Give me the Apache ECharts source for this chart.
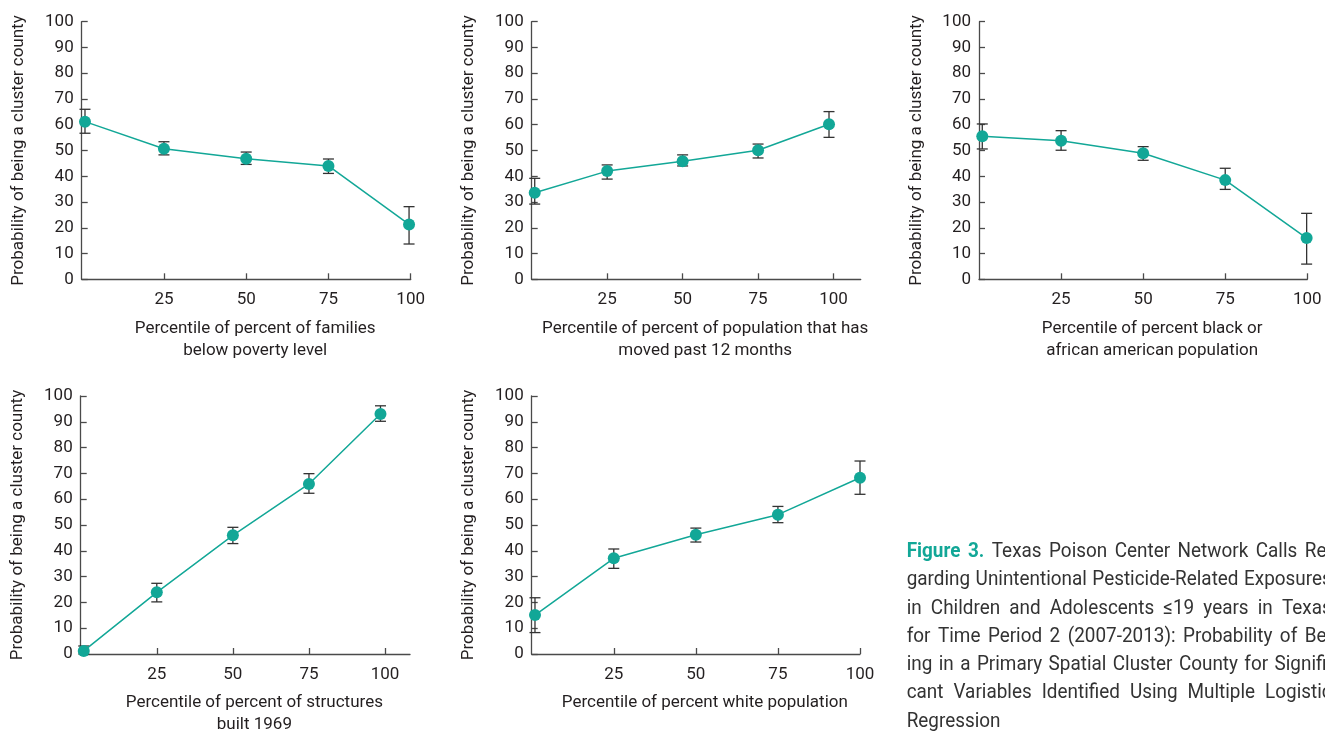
<!DOCTYPE html>
<html><head><meta charset="utf-8">
<script src="https://cdn.jsdelivr.net/npm/echarts@6/dist/echarts.min.js"></script>
<style>html,body{margin:0;padding:0;background:#fff;}#c{width:1325px;height:734px;}</style>
</head><body><div id="c"></div>
<script>
// ---- data ----
const xTickValues = [25, 50, 75, 100];
const yAxisTitle = 'Probability of being a cluster county';

const p1Title = 'Percentile of percent of families\nbelow poverty level';
const p1X = [1, 25, 50, 75, 99.5];
const p1Y = [61.2, 50.7, 46.8, 44.0, 21.3];
const p1Lo = [56.7, 48.3, 44.6, 41.1, 13.7];
const p1Hi = [66.0, 53.4, 49.4, 46.7, 28.2];

const p2Title = 'Percentile of percent of population that has\nmoved past 12 months';
const p2X = [1, 25, 50, 75, 98.5];
const p2Y = [33.6, 42.0, 45.8, 50.1, 60.2];
const p2Lo = [29.2, 38.9, 44.0, 47.1, 55.1];
const p2Hi = [39.2, 44.4, 48.3, 52.5, 65.1];

const p3Title = 'Percentile of percent black or\nafrican american population';
const p3X = [1, 25, 50, 75, 99.8];
const p3Y = [55.5, 53.8, 48.9, 38.5, 16.0];
const p3Lo = [50.6, 50.1, 46.2, 34.9, 5.9];
const p3Hi = [60.3, 57.7, 51.5, 43.1, 25.6];

const p4Title = 'Percentile of percent of structures\nbuilt 1969';
const p4X = [1, 25, 50, 75, 98.5];
const p4Y = [1.2, 23.9, 46.0, 65.9, 93.0];
const p4Lo = [0, 20.2, 42.8, 62.3, 90.2];
const p4Hi = [3.1, 27.4, 49.1, 69.9, 96.2];

const p5Title = 'Percentile of percent white population';
const p5X = [1, 25, 50, 75, 100];
const p5Y = [15.1, 37.1, 46.2, 54.0, 68.3];
const p5Lo = [8.3, 33.2, 43.4, 50.9, 61.9];
const p5Hi = [21.8, 40.7, 48.8, 57.2, 74.8];

const captionLabel = 'Figure 3.';
const captionLines = [
  'Texas Poison Center Network Calls Re-',
  'garding Unintentional Pesticide-Related Exposures',
  'in Children and Adolescents \u226419 years in Texas',
  'for Time Period 2 (2007-2013): Probability of Be-',
  'ing in a Primary Spatial Cluster County for Signifi-',
  'cant Variables Identified Using Multiple Logistic',
  'Regression'
];

// ---- layout ----
const panels = [
  {t: p1Title, x: p1X, y: p1Y, lo: p1Lo, hi: p1Hi, xMax: 100, grid: {left: 81.7, top: 21.7, width: 329, height: 257.6}},
  {t: p2Title, x: p2X, y: p2Y, lo: p2Lo, hi: p2Hi, xMax: 109, grid: {left: 531.7, top: 21.7, width: 329, height: 257.6}},
  {t: p3Title, x: p3X, y: p3Y, lo: p3Lo, hi: p3Hi, xMax: 100, grid: {left: 979, top: 21.7, width: 328.3, height: 257.6}},
  {t: p4Title, x: p4X, y: p4Y, lo: p4Lo, hi: p4Hi, xMax: 108.2, grid: {left: 80.7, top: 396, width: 329.3, height: 258}},
  {t: p5Title, x: p5X, y: p5Y, lo: p5Lo, hi: p5Hi, xMax: 100, grid: {left: 531.7, top: 396, width: 328.3, height: 258}}
];

const FONT = 'Roboto, sans-serif';
const FS = 17;
const TXT = '#231f20';
const AX = '#4a4a4a';
const TEAL = '#12a797';

const grids = [], xAxes = [], yAxes = [], series = [];
panels.forEach((p, i) => {
  grids.push(Object.assign({containLabel: false, outerBoundsMode: 'none'}, p.grid));
  xAxes.push({
    type: 'value', gridIndex: i, min: 0, max: p.xMax,
    splitLine: {show: false},
    axisLine: {show: true, lineStyle: {color: AX, width: 1.3}},
    axisTick: {show: true, inside: true, length: 6, customValues: xTickValues, lineStyle: {color: AX, width: 1.3}},
    axisLabel: {customValues: xTickValues, margin: 12, fontSize: FS, color: TXT, fontFamily: FONT},
    name: p.t, nameLocation: 'middle', nameGap: 38,
    nameTextStyle: {fontSize: FS, color: TXT, fontFamily: FONT, lineHeight: 22, padding: [0, 0, 0, 18]}
  });
  yAxes.push({
    type: 'value', gridIndex: i, min: 0, max: 100, interval: 10,
    splitLine: {show: false},
    axisLine: {show: true, lineStyle: {color: AX, width: 1.3}},
    axisTick: {show: true, inside: true, length: 6, lineStyle: {color: AX, width: 1.3}},
    axisLabel: {margin: 8, fontSize: FS, color: TXT, fontFamily: FONT},
    name: yAxisTitle, nameLocation: 'middle', nameGap: 54, nameRotate: 90,
    nameTextStyle: {fontSize: FS, color: TXT, fontFamily: FONT}
  });
  const errData = p.x.map((xv, k) => [xv, p.lo[k], p.hi[k]]);
  series.push({
    type: 'custom', xAxisIndex: i, yAxisIndex: i, clip: false, z: 2,
    data: errData, encode: {x: 0, y: [1, 2]},
    renderItem: function (params, api) {
      const a = api.coord([api.value(0), api.value(1)]);
      const b = api.coord([api.value(0), api.value(2)]);
      const w = 5.5;
      const st = {stroke: '#333', lineWidth: 1.3};
      return {type: 'group', children: [
        {type: 'line', shape: {x1: a[0], y1: a[1], x2: b[0], y2: b[1]}, style: st},
        {type: 'line', shape: {x1: a[0] - w, y1: a[1], x2: a[0] + w, y2: a[1]}, style: st},
        {type: 'line', shape: {x1: b[0] - w, y1: b[1], x2: b[0] + w, y2: b[1]}, style: st}
      ]};
    }
  });
  series.push({
    type: 'line', xAxisIndex: i, yAxisIndex: i, clip: false, z: 3,
    data: p.x.map((xv, k) => [xv, p.y[k]]),
    symbol: 'circle', symbolSize: 12,
    lineStyle: {color: TEAL, width: 1.5},
    itemStyle: {color: TEAL, borderWidth: 0},
    emphasis: {disabled: true}
  });
});

// ---- caption: justified text, word by word ----
const CAP_FS = 21, CAP_SX = 0.9, CAP_LEFT = 906.7, CAP_W = 425, CAP_Y0 = 551.7, CAP_LH = 28.3;
const mctx = document.createElement('canvas').getContext('2d');
function measure(t, bold) {
  mctx.font = (bold ? 'bold ' : '') + CAP_FS + 'px Roboto';
  return mctx.measureText(t).width * CAP_SX;
}
const graphics = [];
captionLines.forEach((ln, k) => {
  let words = ln.split(' ').map(w => ({t: w, bold: false}));
  if (k === 0) words = captionLabel.split(' ').map(w => ({t: w, bold: true})).concat(words);
  const widths = words.map(w => measure(w.t, w.bold));
  const total = widths.reduce((s, v) => s + v, 0);
  const justify = k < captionLines.length - 1;
  const gap = justify ? (CAP_W - total) / (words.length - 1) : measure(' ', false);
  let x = CAP_LEFT;
  words.forEach((w, j) => {
    graphics.push({
      type: 'text', x: x, y: CAP_Y0 + k * CAP_LH, scaleX: CAP_SX,
      style: {text: w.t, fontSize: CAP_FS, fontFamily: 'Roboto', fontWeight: w.bold ? 'bold' : 'normal',
        fill: w.bold ? TEAL : '#333', textVerticalAlign: 'middle', textAlign: 'left'}
    });
    x += widths[j] + gap;
  });
});

const chart = echarts.init(document.getElementById('c'), null, {renderer: 'canvas'});
chart.setOption({
  animation: false,
  backgroundColor: '#fff',
  grid: grids, xAxis: xAxes, yAxis: yAxes, series: series,
  graphic: graphics
});
</script></body></html>
